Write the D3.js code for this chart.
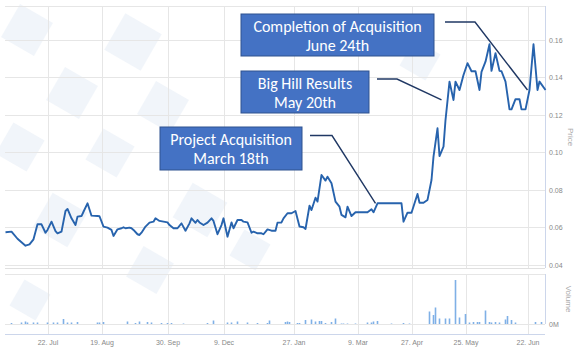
<!DOCTYPE html>
<html><head><meta charset="utf-8">
<script src="https://cdn.jsdelivr.net/npm/d3@7"></script>
<style>html,body{margin:0;padding:0;background:#fff;}svg{display:block;}</style>
</head><body><svg id="c" width="575" height="352"></svg>
<script>
// ---- data (trading-day index, price) ----
const dayIdx = [0,3,6,10,12,14,16,18,20,21,23,25,26,28,30,31,33,35,36,38,39,41,43,46,47,49,51,53,54,56,58,59,60,62,63,64,66,67,68,70,72,74,75,77,79,81,82,84,86,88,90,92,93,95,96,97,99,101,103,104,106,108,109,111,113,114,116,118,119,121,123,124,126,128,129,131,133,135,136,138,139,141,143,145,147,149,150,152,153,155,156,158,160,161,163,165,167,168,170,171,173,175,181,183,184,186,198,199,201,203,206,207,209,211,213,214,216,217,219,220,222,224,225,227,229,231,233,235,237,238,240,242,243,245,247,248,250,252,253,255,257,258,260,262,264,266,267,270];
const price = [0.0575,0.0578,0.054,0.0503,0.051,0.0537,0.0617,0.0617,0.0572,0.0587,0.0631,0.0581,0.0569,0.0578,0.0688,0.0699,0.0649,0.0613,0.0658,0.0661,0.0684,0.0729,0.0663,0.0661,0.066,0.0605,0.0599,0.0587,0.0555,0.059,0.0596,0.0601,0.0596,0.0599,0.0596,0.0587,0.0564,0.056,0.0572,0.0605,0.0626,0.0631,0.0649,0.0635,0.0631,0.0627,0.0613,0.0596,0.0596,0.0622,0.0583,0.0622,0.0649,0.0625,0.064,0.0627,0.0613,0.0626,0.0649,0.0635,0.0564,0.0613,0.0649,0.0551,0.0627,0.0596,0.064,0.064,0.0631,0.0627,0.0572,0.0578,0.0569,0.0569,0.0564,0.059,0.0583,0.0583,0.0626,0.0627,0.0649,0.0676,0.0676,0.0688,0.0605,0.0601,0.0592,0.0716,0.0693,0.0759,0.0738,0.088,0.085,0.0871,0.0836,0.0738,0.0711,0.0667,0.0654,0.0711,0.0661,0.0681,0.0681,0.0697,0.0681,0.0729,0.0729,0.0631,0.0679,0.0679,0.0779,0.0732,0.0732,0.0747,0.0853,0.0978,0.1129,0.0981,0.1031,0.1173,0.1378,0.128,0.1378,0.1333,0.1413,0.1476,0.1433,0.1433,0.1333,0.143,0.1484,0.1577,0.1435,0.1529,0.1435,0.1433,0.1378,0.123,0.123,0.1284,0.1284,0.123,0.123,0.1333,0.1577,0.1333,0.1378,0.1333];
// volume (millions, approx)
const volIdx = [3,8,10,11,14,16,21,24,26,29,31,33,36,46,47,49,61,65,67,71,73,78,81,83,89,101,104,111,113,116,121,126,131,132,140,141,142,146,147,150,153,155,157,158,160,163,165,168,169,171,175,181,183,184,186,193,199,202,212,214,215,217,220,222,225,227,230,232,234,236,237,240,242,243,245,247,250,251,253,255,265,268];
const volume = [0.2,0.3,0.5,0.3,0.3,0.3,0.3,0.3,0.3,1.0,0.3,0.3,0.4,0.3,0.3,0.4,0.5,0.2,0.5,0.4,0.3,0.2,0.2,0.2,0.1,0.2,0.7,0.3,0.3,0.5,0.3,0.2,0.2,0.7,0.4,0.5,0.4,0.2,0.2,0.8,0.9,0.5,0.6,0.6,0.2,0.4,1.1,0.1,0.1,0.1,0.1,0.3,0.3,0.5,0.6,0.1,0.2,0.1,2.5,1.8,3.3,1.1,1.1,1.1,8.8,1.3,2.0,0.3,0.4,0.4,0.4,2.7,0.4,0.3,0.4,0.3,0.9,1.6,0.8,0.3,0.4,0.4];
// x axis ticks
const tickIdx = [21,48,81,109,144,176,203,230,261];
const tickLabels = ["22. Jul","19. Aug","30. Sep","9. Dec","27. Jan","9. Mar","27. Apr","25. May","22. Jun"];
const priceTicks = [0.04,0.06,0.08,0.10,0.12,0.14,0.16];
// annotations: text lines and the day index they point to
const notes = [
  {lines:["Completion of Acquisition","June 24th"], idx:261, p:0.1333},
  {lines:["Big Hill Results","May 20th"], idx:218, p:0.128},
  {lines:["Project Acquisition","March 18th"], idx:185, p:0.0729}
];

const svg = d3.select("#c");
const x = d3.scaleLinear().domain([0,270]).range([5.5,545.5]);
const y = d3.scaleLinear().domain([0.04,0.1781]).range([265,6]);
const yv = d3.scaleLinear().domain([0,10]).range([324,274]);

// watermark diamonds (decorative)
const wm = [[27,30,38],[133,42,42],[72,93,38],[163,107,38],[20,147,36],[110,153,36],[60,220,40],[200,210,40],[150,270,35],[250,250,30],[30,300,30],[420,60,30]];
svg.append("g").selectAll("rect").data(wm).join("rect")
  .attr("x",d=>-d[2]/2).attr("y",d=>-d[2]/2).attr("width",d=>d[2]).attr("height",d=>d[2])
  .attr("transform",d=>`translate(${d[0]},${d[1]}) rotate(30)`)
  .attr("fill","#e4ebf6").attr("opacity",0.5);

const grid = "#e6e6e6";
// horizontal grid
svg.append("g").selectAll("line").data(priceTicks).join("line")
  .attr("x1",5).attr("x2",545).attr("y1",d=>Math.round(y(d))+0.5).attr("y2",d=>Math.round(y(d))+0.5)
  .attr("stroke",grid);
svg.append("line").attr("x1",5).attr("x2",545).attr("y1",6.5).attr("y2",6.5).attr("stroke",grid);
svg.append("line").attr("x1",5).attr("x2",545).attr("y1",268.5).attr("y2",268.5).attr("stroke","#e0e0e0");
svg.append("line").attr("x1",5).attr("x2",545).attr("y1",274.5).attr("y2",274.5).attr("stroke",grid);
svg.append("line").attr("x1",5).attr("x2",545).attr("y1",324.5).attr("y2",324.5).attr("stroke",grid);
// vertical grid
svg.append("g").selectAll("line").data(tickIdx).join("line")
  .attr("x1",d=>Math.round(x(d))+0.5).attr("x2",d=>Math.round(x(d))+0.5)
  .attr("y1",6).attr("y2",268).attr("stroke",grid);
svg.append("g").selectAll("line").data(tickIdx).join("line")
  .attr("x1",d=>Math.round(x(d))+0.5).attr("x2",d=>Math.round(x(d))+0.5)
  .attr("y1",274).attr("y2",334).attr("stroke",grid);
// axis lines
svg.append("line").attr("x1",545.5).attr("x2",545.5).attr("y1",6).attr("y2",268).attr("stroke","#ccd6eb");
svg.append("line").attr("x1",545.5).attr("x2",545.5).attr("y1",274).attr("y2",324).attr("stroke","#ccd6eb");
svg.append("line").attr("x1",5).attr("x2",545).attr("y1",334.5).attr("y2",334.5).attr("stroke","#ccd6eb");

const lab = "7px 'Liberation Sans', Arial, sans-serif";
// right price axis labels
const ya = d3.axisRight(y).tickValues(priceTicks).tickFormat(d3.format(".2f")).tickSize(0).tickPadding(4);
const yag = svg.append("g").attr("transform","translate(545,0)").call(ya);
yag.select(".domain").remove();
yag.selectAll("text").attr("fill","#888").style("font",lab);
// volume axis label
const yva = d3.axisRight(yv).tickValues([0]).tickFormat(()=> "0M").tickSize(0).tickPadding(4);
const yvg = svg.append("g").attr("transform","translate(545,0)").call(yva);
yvg.select(".domain").remove();
yvg.selectAll("text").attr("fill","#888").style("font",lab);
// x axis labels
const xa = d3.axisBottom(x).tickValues(tickIdx).tickFormat((d,i)=>tickLabels[i]).tickSize(0).tickPadding(6);
const xag = svg.append("g").attr("transform","translate(0,334)").call(xa);
xag.select(".domain").remove();
xag.selectAll("text").attr("fill","#888").style("font",lab);

// axis titles
svg.append("text").attr("transform","translate(568,137) rotate(90)").attr("text-anchor","middle")
  .attr("fill","#aaa").style("font","8px 'Liberation Sans', Arial, sans-serif").text("Price");
svg.append("text").attr("transform","translate(566,299) rotate(90)").attr("text-anchor","middle")
  .attr("fill","#aaa").style("font","8px 'Liberation Sans', Arial, sans-serif").text("Volume");

// volume bars
svg.append("g").selectAll("rect").data(volume).join("rect")
  .attr("x",(d,i)=>x(volIdx[i])-0.8).attr("width",1.6)
  .attr("y",d=>yv(d)).attr("height",d=>yv(0)-yv(d))
  .attr("fill","#7fb0e6");

// price line
const pts = dayIdx.map((d,i)=>[d,price[i]]);
svg.append("path").datum(pts)
  .attr("d",d3.line().x(d=>x(d[0])).y(d=>y(d[1])))
  .attr("fill","none").attr("stroke","#2763ad").attr("stroke-width",1.9).attr("stroke-linejoin","round");

// annotation boxes
const boxes = [
  {x0:241,y0:14,x1:434,y1:56, lead:[[445,22],[475,22]]},
  {x0:241,y0:71,x1:369,y1:113, lead:[[377,79],[397,79]]},
  {x0:160,y0:127,x1:302,y1:170, lead:[[310,135.5],[332,135.5]]}
];
notes.forEach((n,k)=>{
  const b = boxes[k];
  const g = svg.append("g");
  g.append("rect").attr("x",b.x0).attr("y",b.y0).attr("width",b.x1-b.x0).attr("height",b.y1-b.y0)
    .attr("fill","#4472c4").attr("stroke","#2f528f").attr("stroke-width",1);
  const cx=(b.x0+b.x1)/2;
  n.lines.forEach((t,j)=>{
    g.append("text").attr("x",cx).attr("y",b.y0+12.5+j*19).attr("dy","0.35em").attr("text-anchor","middle")
      .attr("fill","#fff").style("font","16px Carlito, Lato, 'Open Sans', sans-serif").text(t);
  });
  const lp = b.lead.concat([[x(n.idx), y(n.p)]]);
  svg.append("path").attr("d",d3.line()(lp)).attr("fill","none").attr("stroke","#203864").attr("stroke-width",1.4);
});
</script></body></html>
